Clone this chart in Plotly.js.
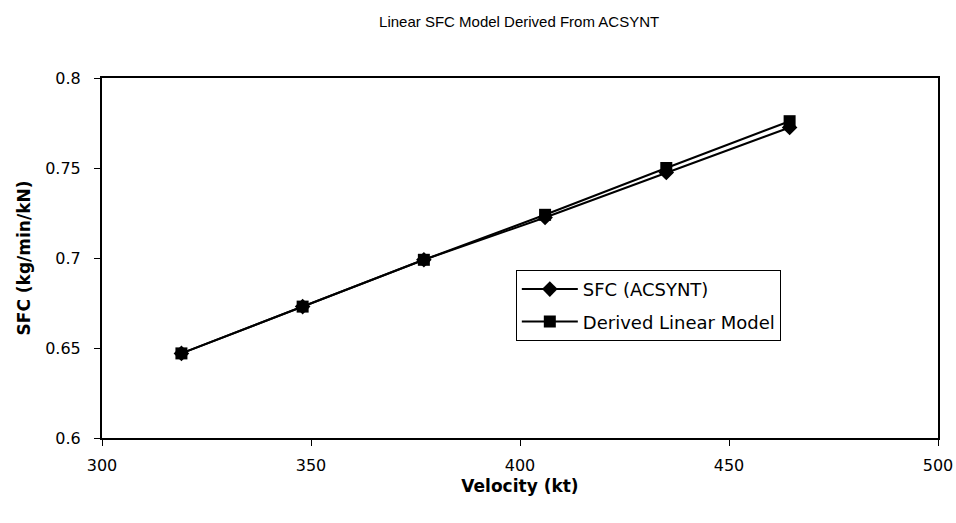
<!DOCTYPE html>
<html>
<head>
<meta charset="utf-8">
<script src="https://cdn.plot.ly/plotly-3.0.1.min.js"></script>
<style>html,body{margin:0;padding:0;background:#fff;}#chart{width:956px;height:523px;}</style>
</head>
<body>
<div id="chart"></div>
<script>
const velocity = [319, 348, 377, 406, 435, 464.5];
const sfcAcsynt = [0.647, 0.673, 0.699, 0.7225, 0.7475, 0.7725];
const sfcLinear = [0.647, 0.673, 0.699, 0.724, 0.750, 0.776];
const xTicks = [300, 350, 400, 450, 500];
const yTicks = [0.6, 0.65, 0.7, 0.75, 0.8];
const yTickText = ['0.6', '0.65', '0.7', '0.75', '0.8'];

const font = 'Liberation Sans, Arial, sans-serif';
const wide = 'DejaVu Sans, Verdana, sans-serif';

const traces = [
  {
    x: velocity, y: sfcAcsynt, name: 'SFC (ACSYNT)', mode: 'lines+markers',
    legendgroup: 'a',
    line: {color: '#000', width: 2},
    marker: {symbol: 'diamond', size: 12, color: '#000'}
  },
  {
    x: velocity, y: sfcLinear, name: 'Derived Linear Model', mode: 'lines+markers',
    legendgroup: 'b',
    line: {color: '#000', width: 2},
    marker: {symbol: 'square', size: 12, color: '#000'}
  }
];

const layout = {
  width: 956, height: 523,
  margin: {l: 102, r: 18, t: 78, b: 85},
  paper_bgcolor: '#fff', plot_bgcolor: '#fff',
  font: {family: font, color: '#000', size: 16},
  title: {text: 'Linear SFC Model Derived From ACSYNT', font: {family: font, size: 15, color: '#000'}, x: 0.543, xanchor: 'center', y: 0.958, yanchor: 'middle'},
  showlegend: true,
  legend: {
    x: 0.495, y: 0.467, xanchor: 'left', yanchor: 'top',
    bordercolor: '#000', borderwidth: 1, bgcolor: '#fff',
    font: {family: wide, size: 18, color: '#000'},
    traceorder: 'grouped', tracegroupgap: 6,
    itemwidth: 56
  },
  xaxis: {
    range: [300, 500], tickvals: xTicks, ticktext: xTicks.map(String),
    showgrid: false, zeroline: false,
    showline: true, linecolor: '#000', linewidth: 2, mirror: true,
    ticks: 'outside', ticklen: 6, tickcolor: '#000',
    ticklabelstandoff: 6,
    tickfont: {family: wide, size: 16, color: '#000'},
    title: {text: '<b>Velocity (kt)</b>', font: {family: wide, size: 17, color: '#000'}, standoff: 6}
  },
  yaxis: {
    range: [0.6, 0.8], tickvals: yTicks, ticktext: yTickText,
    showgrid: false, zeroline: false,
    showline: true, linecolor: '#000', linewidth: 2, mirror: true,
    ticks: 'outside', ticklen: 6, tickcolor: '#000',
    ticklabelstandoff: 10,
    tickfont: {family: wide, size: 16, color: '#000'},
    title: {text: '<b>SFC (kg/min/kN)</b>', font: {family: wide, size: 17, color: '#000'}, standoff: 10}
  }
};

Plotly.newPlot('chart', traces, layout, {displayModeBar: false, staticPlot: true});
</script>
</body>
</html>
